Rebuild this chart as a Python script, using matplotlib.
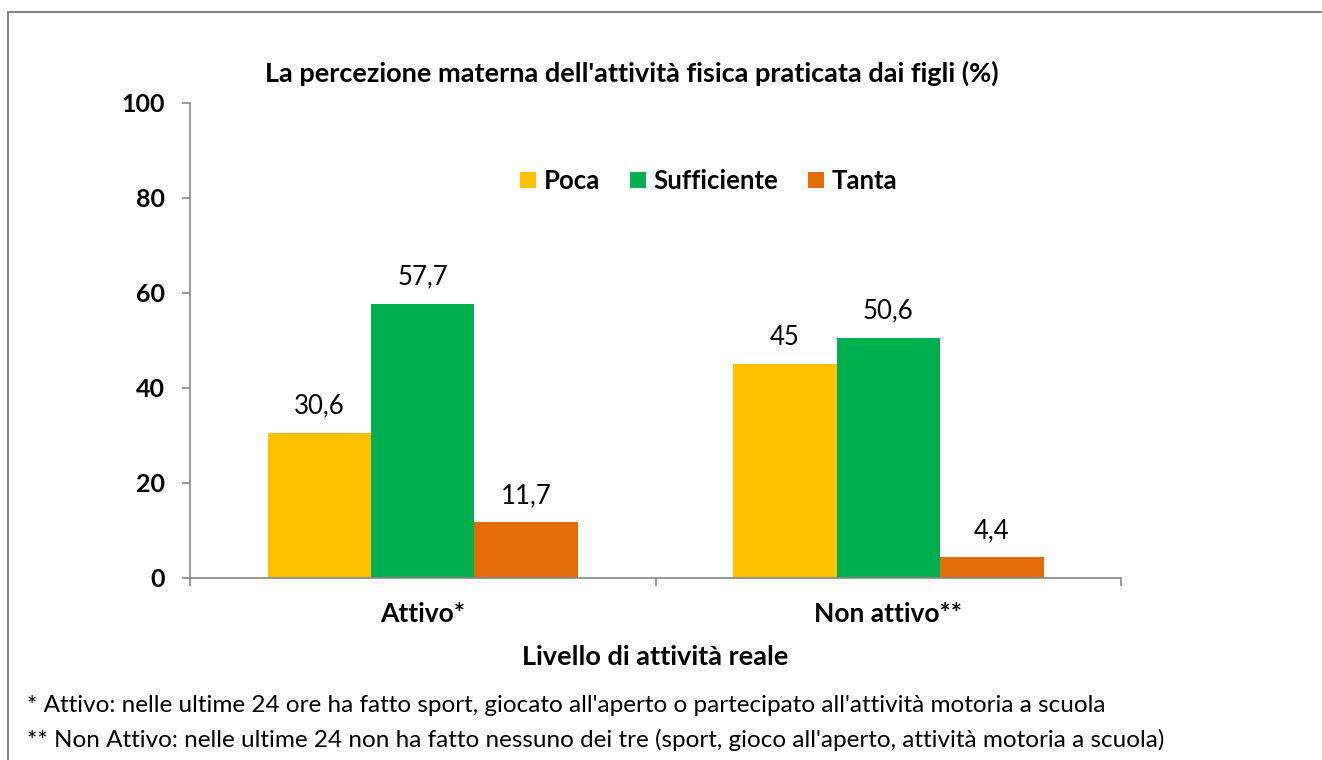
import numpy as np
import matplotlib.pyplot as plt
from matplotlib.patches import Rectangle

categories = ['Attivo*', 'Non attivo**']
series = ['Poca', 'Sufficiente', 'Tanta']
values = {
    'Poca': [30.6, 45.0],
    'Sufficiente': [57.7, 50.6],
    'Tanta': [11.7, 4.4],
}
labels = {
    'Poca': ['30,6', '45'],
    'Sufficiente': ['57,7', '50,6'],
    'Tanta': ['11,7', '4,4'],
}
colors = ['#FFC000', '#00B050', '#E36C09']
yticks = [0, 20, 40, 60, 80, 100]
notes = [
    "* Attivo: nelle ultime 24 ore ha fatto sport, giocato all'aperto o partecipato all'attività motoria a scuola",
    "** Non Attivo: nelle ultime 24 non ha fatto nessuno dei tre (sport, gioco all'aperto, attività motoria a scuola)",
]

plt.rcParams['font.family'] = ['Lato', 'DejaVu Sans']

fig = plt.figure(figsize=(13.22, 7.6), dpi=100)
ax = fig.add_axes([0.1437, 0.2395, 0.7043, 0.625])

# outer chart border
fig.patches.append(Rectangle((8 / 1322, -0.1), 1.2, 1 - 12 / 760 + 0.1, transform=fig.transFigure,
                             fill=False, edgecolor='#868686', linewidth=1.5))

x = np.arange(len(categories))
w = 0.2223
for i, s in enumerate(series):
    pos = x + (i - 1) * w
    ax.bar(pos, values[s], w, color=colors[i], label=s)
    for xp, v, lab in zip(pos, values[s], labels[s]):
        ax.text(xp, v + 3.0, lab, ha='center', va='bottom', fontsize=18.5)

ax.set_xlim(-0.5, 1.5)
ax.set_ylim(0, 100)
ax.set_yticks(yticks)
ax.set_yticklabels([str(t) for t in yticks], fontsize=18, fontweight='bold')
ax.set_xticks(x)
ax.set_xticklabels(categories, fontsize=19, fontweight='bold')
ax.tick_params(axis='x', length=0, pad=17)
ax.set_xticks([-0.5, 0.5, 1.5], minor=True)
ax.tick_params(axis='x', which='minor', length=6, color='#868686', width=1.2)
ax.tick_params(axis='y', length=6, color='#868686', width=1.2, pad=12)
for side in ['top', 'right']:
    ax.spines[side].set_visible(False)
for side in ['left', 'bottom']:
    ax.spines[side].set_color('#868686')
    ax.spines[side].set_linewidth(1.2)

ax.set_xlabel('Livello di attività reale', fontsize=19.5, fontweight='bold', labelpad=14)
fig.text(0.4777, 0.904, "La percezione materna dell'attività fisica praticata dai figli (%)",
         ha='center', va='center', fontsize=19.5, fontweight='bold')

ax.legend(loc='center', bbox_to_anchor=(0.557, 0.836), ncol=3, frameon=False,
          prop={'weight': 'bold', 'size': 18.5}, handlelength=0.62, handleheight=0.62,
          handletextpad=0.3, columnspacing=1.15)

fig.text(27 / 1322, 1 - 706 / 760, notes[0], ha='left', va='center', fontsize=17.5)
fig.text(27 / 1322, 1 - 740 / 760, notes[1], ha='left', va='center', fontsize=17.5)

fig.savefig('out.png', dpi=100)
